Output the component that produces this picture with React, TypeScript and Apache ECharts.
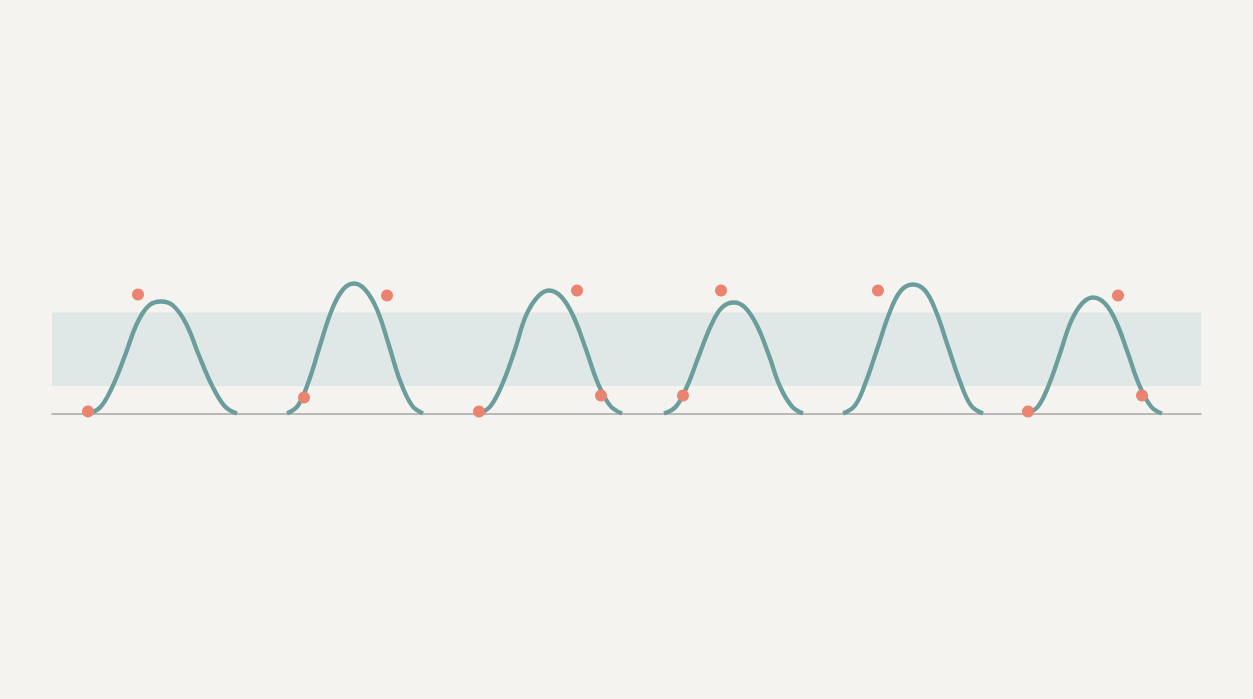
import React, { useEffect, useRef } from 'react';
import * as echarts from 'echarts';

// x: horizontal position along the strip, y: height above the baseline
const curve1 = [[36, 0], [48, 6], [60, 26], [73, 58], [85, 90], [97, 108], [109, 112], [121, 108], [134, 90], [147, 58], [160, 28], [173, 7], [185, 0]];
const curve2 = [[235, 0], [246, 8], [257, 33], [268, 68], [280, 104], [291, 124], [302, 130], [313, 124], [325, 104], [337, 68], [348, 33], [360, 8], [371, 0]];
const curve3 = [[428, 0], [439, 8], [451, 31], [463, 64], [474, 98], [486, 117], [497, 123], [509, 117], [521, 98], [534, 64], [546, 30], [558, 8], [570, 0]];
const curve4 = [[612, 0], [624, 7], [635, 27], [647, 58], [659, 88], [670, 106], [682, 111], [693, 106], [705, 88], [717, 58], [728, 27], [740, 7], [751, 0]];
const curve5 = [[791, 0], [803, 8], [814, 32], [826, 67], [838, 102], [849, 123], [861, 129], [873, 123], [884, 102], [896, 67], [908, 32], [919, 8], [931, 0]];
const curve6 = [[975, 0], [986, 7], [997, 29], [1008, 60], [1019, 92], [1030, 110], [1041, 116], [1053, 110], [1064, 92], [1076, 60], [1087, 29], [1099, 7], [1110, 0]];
const curves = [curve1, curve2, curve3, curve4, curve5, curve6];

const dots = [
  [36, 2], [86, 119],
  [252, 16], [335, 118],
  [427, 2], [525, 123], [549, 18],
  [631, 18], [669, 123],
  [826, 123],
  [976, 2], [1066, 118], [1090, 18],
];

const bandLow = 27.5;
const bandHigh = 101;

export default function App() {
  const chartRef = useRef(null);

  useEffect(() => {
    if (!chartRef.current) return;
    const chart = echarts.init(chartRef.current, null, { renderer: 'svg' });

    const lineSeries = curves.map((c, i) => ({
      name: 'curve' + (i + 1),
      type: 'line',
      data: c,
      smooth: 0.4,
      smoothConstraint: false,
      showSymbol: false,
      lineStyle: { color: '#6A9D9C', width: 4.3 },
      z: 3,
      markArea: i === 0 ? {
        silent: true,
        itemStyle: { color: '#DFE8E6' },
        data: [[{ yAxis: bandLow }, { yAxis: bandHigh }]],
        z: 1,
      } : undefined,
    }));

    chart.setOption({
      animation: false,
      backgroundColor: '#F4F3EF',
      grid: { left: 52, right: 52, top: 213.5, bottom: 285.5 },
      xAxis: {
        type: 'value',
        min: 0,
        max: 1149,
        axisLine: { show: true, lineStyle: { color: '#A5A5A3', width: 1.5 } },
        axisTick: { show: false },
        axisLabel: { show: false },
        splitLine: { show: false },
      },
      yAxis: {
        type: 'value',
        min: 0,
        max: 200,
        axisLine: { show: false },
        axisTick: { show: false },
        axisLabel: { show: false },
        splitLine: { show: false },
      },
      series: [
        ...lineSeries,
        {
          name: 'points',
          type: 'scatter',
          data: dots,
          symbolSize: 12,
          itemStyle: { color: '#EA8470', opacity: 1 },
          z: 5,
        },
      ],
    });

    const handleResize = () => chart.resize();
    window.addEventListener('resize', handleResize);
    return () => {
      window.removeEventListener('resize', handleResize);
      chart.dispose();
    };
  }, []);

  return (
    <div
      ref={chartRef}
      style={{ position: 'fixed', left: 0, top: 0, width: '100vw', height: '100vh', background: '#F4F3EF' }}
    />
  );
}
